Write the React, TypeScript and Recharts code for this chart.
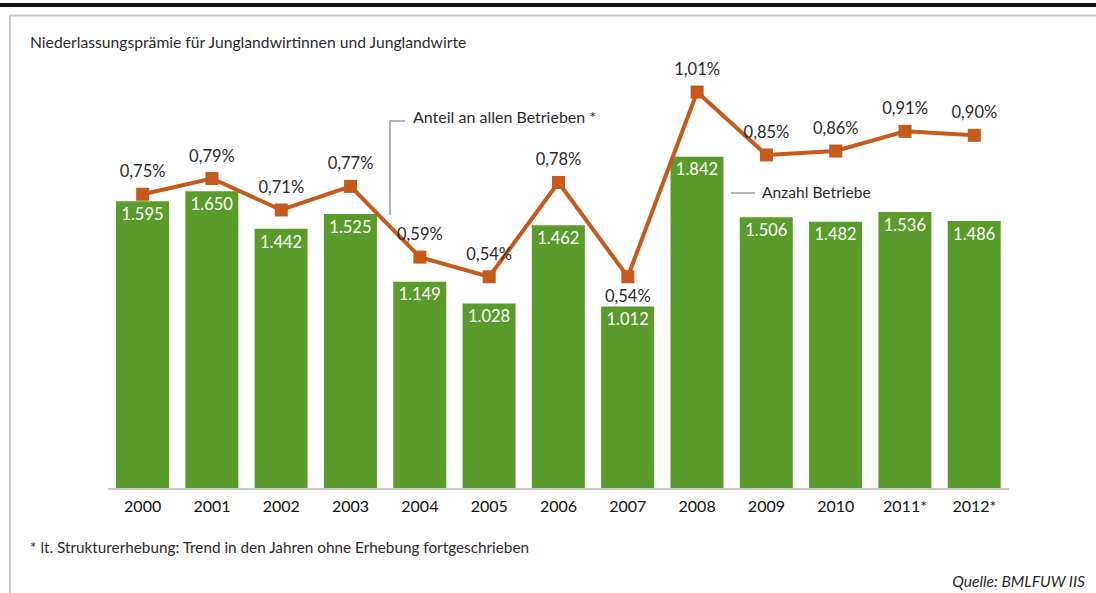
import React from "react"
import { ComposedChart, Bar, Line, XAxis, YAxis, LabelList } from "recharts"

const years = ["2000", "2001", "2002", "2003", "2004", "2005", "2006", "2007", "2008", "2009", "2010", "2011*", "2012*"]
const betriebe = [1595, 1650, 1442, 1525, 1149, 1028, 1462, 1012, 1842, 1506, 1482, 1536, 1486]
const anteil = [0.75, 0.79, 0.71, 0.77, 0.59, 0.54, 0.78, 0.54, 1.01, 0.85, 0.86, 0.91, 0.9]

const data = years.map((year, i) => ({ year, betriebe: betriebe[i], anteil: anteil[i] }))

const FONT = "Lato, 'Open Sans', sans-serif"
const GREEN = "#5a9c2b"
const ORANGE = "#c55a1a"
const TEXT = "#2b2b2b"

const fmtCount = (v: number) => v.toLocaleString("de-DE")
const fmtPct = (v: number) => v.toFixed(2).replace(".", ",") + "%"

function PctLabel(props: any) {
  const { x, y, value, index } = props
  const below = index === 7
  return (
    <text x={x} y={below ? y + 25 : y - 17} textAnchor="middle" fontSize={16.5} fill={TEXT} fontFamily={FONT}>
      {fmtPct(value)}
    </text>
  )
}

function YearTick(props: any) {
  const { x, y, payload } = props
  return (
    <text x={x} y={y} dy={21} textAnchor="middle" fontSize={16} fill="#111" fontFamily={FONT}>
      {payload.value}
    </text>
  )
}

export default function App() {
  return (
    <div style={{ position: "absolute", left: 0, top: 0, width: 1096, height: 593, background: "#fff", fontFamily: FONT }}>
      <ComposedChart
        width={1096}
        height={593}
        data={data}
        margin={{ top: 60, right: 87, left: 108, bottom: 74 }}
      >
        <XAxis
          dataKey="year"
          height={30}
          tickLine={false}
          tickSize={0}
          axisLine={{ stroke: "#c8c8c8", strokeWidth: 2 }}
          tick={<YearTick />}
          interval={0}
        />
        <YAxis yAxisId="left" hide domain={[0, 2378]} />
        <YAxis yAxisId="right" hide orientation="right" domain={[0, 1.0916]} />
        <Bar yAxisId="left" dataKey="betriebe" fill={GREEN} barSize={53} isAnimationActive={false}>
          <LabelList
            dataKey="betriebe"
            position="insideTop"
            offset={7}
            fill="#fff"
            fontSize={16.5}
            fontFamily={FONT}
            formatter={(v: any) => fmtCount(Number(v))}
          />
        </Bar>
        <Line
          yAxisId="right"
          dataKey="anteil"
          stroke={ORANGE}
          strokeWidth={4}
          isAnimationActive={false}
          dot={(p: any) => (
            <rect key={`d-${p.index}`} x={p.cx - 6.5} y={p.cy - 6.5} width={13} height={13} fill={ORANGE} />
          )}
          activeDot={false}
        >
          <LabelList dataKey="anteil" content={<PctLabel />} />
        </Line>
      </ComposedChart>

      <svg width={1096} height={593} style={{ position: "absolute", left: 0, top: 0, pointerEvents: "none" }}>
        <rect x={0} y={3} width={1096} height={4} fill="#111" />
        <line x1={10} y1={15.5} x2={1096} y2={15.5} stroke="#c9c9c9" strokeWidth={2} />
        <line x1={10} y1={15} x2={10} y2={593} stroke="#c9c9c9" strokeWidth={2} />
        <text x={30} y={48} fontSize={15.7} fill={TEXT} fontFamily={FONT}>
          Niederlassungsprämie für Junglandwirtinnen und Junglandwirte
        </text>
        <polyline points="405,121 390,121 390,215" fill="none" stroke="#a0a0a0" strokeWidth={1.5} />
        <text x={413} y={123} fontSize={16} fill={TEXT} fontFamily={FONT}>
          Anteil an allen Betrieben *
        </text>
        <line x1={731} y1={193} x2={755} y2={193} stroke="#a0a0a0" strokeWidth={1.5} />
        <text x={762} y={198} fontSize={15.6} fill={TEXT} fontFamily={FONT}>
          Anzahl Betriebe
        </text>
        <text x={30} y={553} fontSize={15.3} fill={TEXT} fontFamily={FONT}>
          * lt. Strukturerhebung: Trend in den Jahren ohne Erhebung fortgeschrieben
        </text>
        <text x={1085} y={587} textAnchor="end" fontSize={15.6} fontStyle="italic" fill={TEXT} fontFamily={FONT}>
          Quelle: BMLFUW IIS
        </text>
      </svg>
    </div>
  )
}
